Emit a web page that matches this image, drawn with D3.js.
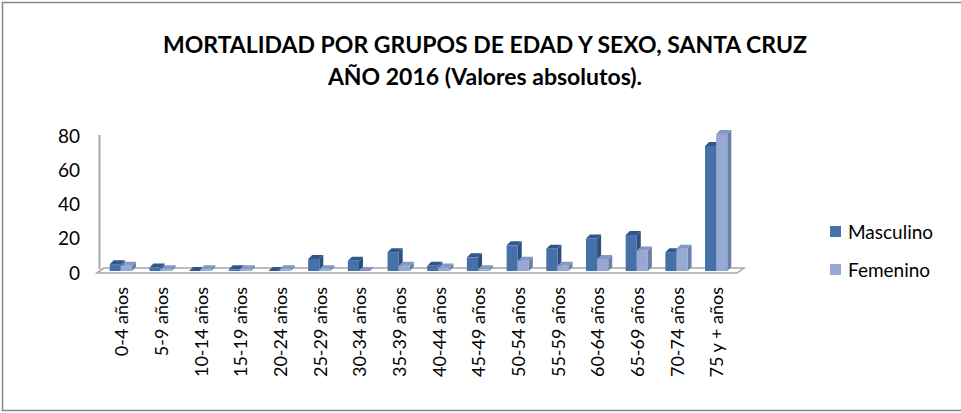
<!DOCTYPE html>
<html>
<head>
<meta charset="utf-8">
<script src="https://cdn.jsdelivr.net/npm/d3@7"></script>
<style>
  body { margin: 0; background: #fff; }
  text { font-family: Lato, "Open Sans", sans-serif; fill: #000; }
</style>
</head>
<body>
<div id="viz"></div>
<script>
var grupos = ["0-4 años", "5-9 años", "10-14 años", "15-19 años", "20-24 años", "25-29 años",
              "30-34 años", "35-39 años", "40-44 años", "45-49 años", "50-54 años", "55-59 años",
              "60-64 años", "65-69 años", "70-74 años", "75 y + años"];
var masculino = [4, 2, 0, 1, 0, 7, 6, 11, 3, 8, 15, 13, 19, 21, 11, 73];
var femenino  = [3, 1, 1, 1, 1, 1, 0, 3, 2, 1, 6, 3, 7, 12, 13, 80];
var series = ["Masculino", "Femenino"];
var yTicks = [0, 20, 40, 60, 80];

var width = 961, height = 413;
var dx = 4, dy = -4;          // bar depth
var fdx = 7, fdy = -5;        // floor depth

var colors = {
  Masculino: {front: "#4671a8", top: "#2f578d", side: "#2b4f80"},
  Femenino:  {front: "#95a9d3", top: "#8298c6", side: "#6a7fa9"}
};

var svg = d3.select("#viz").append("svg")
    .attr("width", width)
    .attr("height", height);

svg.append("rect")
    .attr("x", 2.5).attr("y", 2.5)
    .attr("width", width).attr("height", 408)
    .attr("fill", "#fff").attr("stroke", "#868686").attr("stroke-width", 1.5);

// title
var title = svg.append("text")
    .attr("text-anchor", "middle")
    .style("font-weight", "bold")
    .style("font-size", "23px");
title.append("tspan").attr("x", 485).attr("y", 53).text("MORTALIDAD POR GRUPOS DE EDAD Y SEXO, SANTA CRUZ");
title.append("tspan").attr("x", 485).attr("y", 85).text("AÑO 2016 (Valores absolutos).");

var x = d3.scaleBand()
    .domain(grupos)
    .range([101, 736])
    .paddingInner(0.44)
    .paddingOuter(0.22);

var xs = d3.scaleBand().domain(series).range([0, x.bandwidth()]);

var y = d3.scaleLinear()
    .domain([0, 80])
    .range([271, 134]);

// floor
var fy = 273, fx0 = 97, fx1 = 737;
svg.append("path")
    .attr("d", "M" + fx0 + "," + fy + "L" + fx1 + "," + fy + "L" + (fx1 + fdx) + "," + (fy + fdy) +
               "L" + (fx0 + fdx) + "," + (fy + fdy) + "Z")
    .attr("fill", "#fff").attr("stroke", "#a6a6a6").attr("stroke-width", 1.5);
svg.append("line")
    .attr("x1", fx0 + 0.5 + 2).attr("x2", fx0 + 0.5 + 2)
    .attr("y1", fy + fdy + 1).attr("y2", 135)
    .attr("stroke", "#a6a6a6").attr("stroke-width", 2);
svg.append("line")
    .attr("x1", fx0).attr("x2", fx0 + fdx)
    .attr("y1", fy).attr("y2", fy + fdy)
    .attr("stroke", "#a6a6a6").attr("stroke-width", 1.5);

// y axis labels
svg.append("g").selectAll("text")
    .data(yTicks)
    .enter().append("text")
      .attr("x", 80)
      .attr("y", function(d) { return y(d) + 2; })
      .attr("dy", "0.35em")
      .attr("text-anchor", "end")
      .style("font-size", "19px")
      .text(function(d) { return d; });

// bars
var rows = [];
grupos.forEach(function(g, i) {
  rows.push({g: g, s: "Masculino", v: masculino[i]});
  rows.push({g: g, s: "Femenino", v: femenino[i]});
});

var bars = svg.append("g").selectAll("g")
    .data(rows)
    .enter().append("g");

bars.each(function(d) {
  var el = d3.select(this);
  var x0 = x(d.g) + xs(d.s), w = xs.bandwidth();
  var yb = y(0), yt = y(d.v);
  var c = colors[d.s];
  el.append("path")
      .attr("d", "M" + (x0 + w) + "," + yb + "L" + (x0 + w + dx) + "," + (yb + dy) +
                 "L" + (x0 + w + dx) + "," + (yt + dy) + "L" + (x0 + w) + "," + yt + "Z")
      .attr("fill", c.side);
  el.append("path")
      .attr("d", "M" + x0 + "," + yt + "L" + (x0 + dx) + "," + (yt + dy) +
                 "L" + (x0 + w + dx) + "," + (yt + dy) + "L" + (x0 + w) + "," + yt + "Z")
      .attr("fill", c.top);
  el.append("rect")
      .attr("x", x0).attr("y", yt)
      .attr("width", w).attr("height", yb - yt)
      .attr("fill", c.front);
});

// x labels
svg.append("g").selectAll("text")
    .data(grupos)
    .enter().append("text")
      .attr("transform", function(d) {
        return "translate(" + (x(d) + x.bandwidth() / 2 + 1) + ",287) rotate(-90)";
      })
      .attr("dy", "0.35em")
      .attr("text-anchor", "end")
      .style("font-size", "18px")
      .text(function(d) { return d; });

// legend
var legend = svg.append("g").selectAll("g")
    .data(series)
    .enter().append("g")
      .attr("transform", function(d, i) { return "translate(830," + (226 + i * 38) + ")"; });
legend.append("rect")
    .attr("width", 11).attr("height", 11)
    .attr("fill", function(d) { return colors[d].front; });
legend.append("text")
    .attr("x", 18).attr("y", 6)
    .attr("dy", "0.35em")
    .style("font-size", "19px")
    .text(function(d) { return d; });
</script>
</body>
</html>
